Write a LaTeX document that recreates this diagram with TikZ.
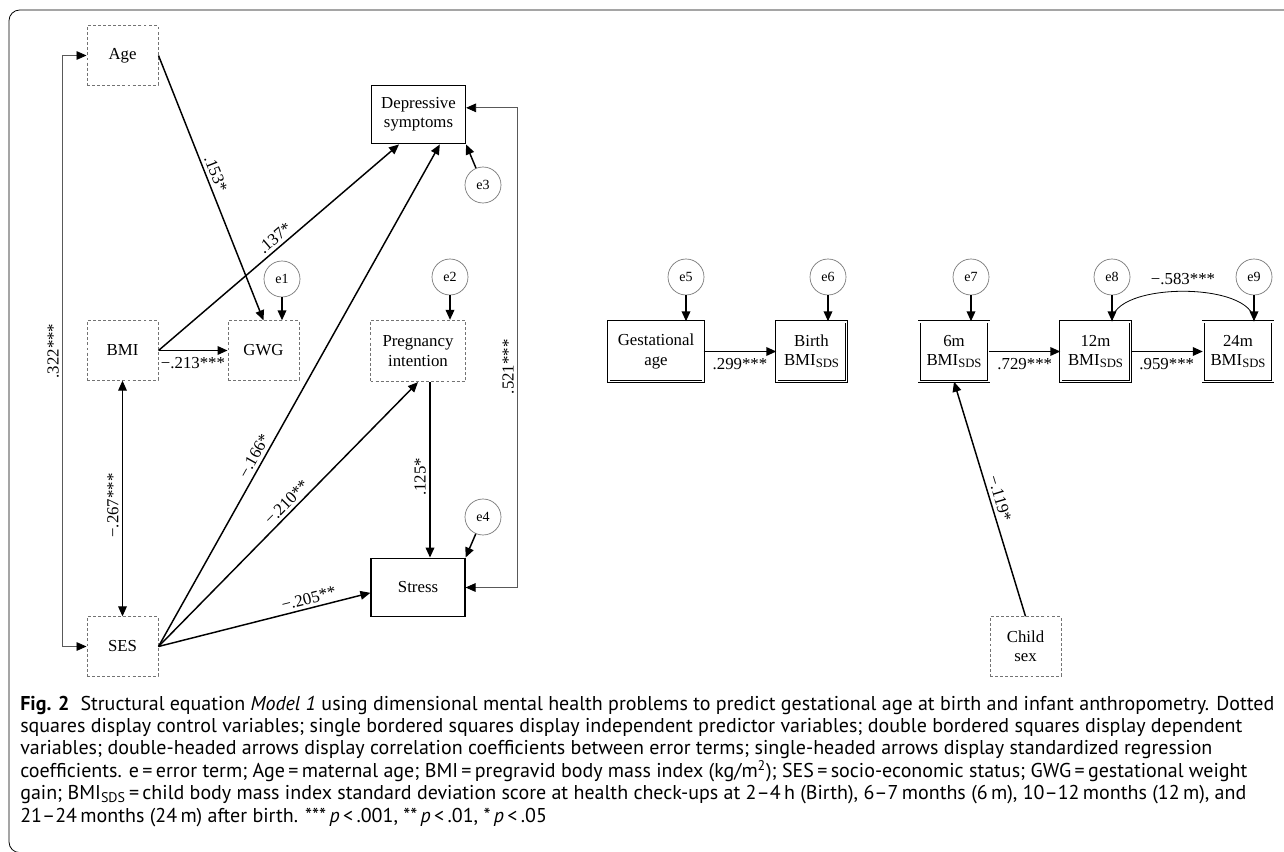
\documentclass[tikz,border=0pt]{standalone}
\usepackage{fontspec}
\setmainfont{Liberation Serif}
\newfontfamily\capfont{PT Sans}
\usetikzlibrary{arrows.meta}

\newcommand{\bmisds}{BMI\raisebox{-0.25ex}{\fontsize{9.5}{10}\selectfont SDS}}

\tikzset{
  ctrl/.style={draw=black!55, dash pattern=on 2.2pt off 1.6pt, line width=0.75pt, minimum width=53.25pt, minimum height=44.5pt, inner sep=1pt, align=center, font=\fontsize{12.6}{14.5}\selectfont},
  pred/.style={draw, line width=0.9pt, minimum width=70.5pt, minimum height=44pt, inner sep=1pt, align=center, font=\fontsize{12.6}{14.5}\selectfont},
  outc/.style={draw, double, double distance=1.3pt, line width=0.55pt, minimum width=52.3pt, minimum height=44.8pt, inner sep=1pt, align=center, font=\fontsize{12.6}{14.5}\selectfont},
  err/.style={circle, draw=black!55, line width=0.5pt, minimum size=27pt, inner sep=0pt, font=\fontsize{10.5}{12}\selectfont},
  reg/.style={line width=1.1pt, -{Triangle[length=7.5pt,width=6.5pt]}},
  corr/.style={line width=0.9pt, {Triangle[length=7.5pt,width=6.5pt]}-{Triangle[length=7.5pt,width=6.5pt]}},
  cov/.style={line width=0.6pt, draw=black!65, {Triangle[length=7.5pt,width=6.5pt,fill=black,color=black]}-{Triangle[length=7.5pt,width=6.5pt,fill=black,color=black]}},
  lab/.style={font=\fontsize{12.6}{14}\selectfont, inner sep=2.5pt},
  captext/.style={font=\capfont\fontsize{15}{16}\selectfont, inner sep=0pt, anchor=base west},
}

\begin{document}
\begin{tikzpicture}[x=0.75pt,y=-0.75pt]
\useasboundingbox (0,0) rectangle (1284,852);

%Frame
\draw[line width=0.6pt, rounded corners=8pt] (1284,10) -- (9,10) -- (9,852.6) -- (1284,852.6);

%Shape: Rectangle (mother)
\node[ctrl] (age) at (122.5,55.5) {Age};
\node[ctrl] (bmi) at (122.5,350.5) {BMI};
\node[ctrl] (gwg) at (263.5,350.5) {GWG};
\node[ctrl] (ses) at (122.5,646.5) {SES};
\node[pred] (dep) at (418.5,114.5) {Depressive\\symptoms};
\node[ctrl, minimum width=71.25pt, minimum height=46pt] (preg) at (418,351) {Pregnancy\\intention};
\node[pred] (stress) at (418,587.5) {Stress};

%Shape: Circle
\node[err] (e1) at (282,279) {e1};
\node[err] (e2) at (450,277) {e2};
\node[err] (e3) at (483,185) {e3};
\node[err] (e4) at (483,517) {e4};

%Shape: Rectangle (child)
\node[outc, minimum width=71pt] (gest) at (656,351.5) {Gestational\\age};
\node[outc] (birth) at (811.5,351.5) {Birth\\\bmisds};
\node[outc] (m6) at (954,351.5) {6m\\\bmisds};
\node[outc] (m12) at (1095.5,351.5) {12m\\\bmisds};
\node[outc] (m24) at (1238,351.5) {24m\\\bmisds};
\node[ctrl] (sex) at (1025.5,646.5) {Child\\sex};

%Shape: Circle
\node[err] (e5) at (686,277) {e5};
\node[err] (e6) at (828,277) {e6};
\node[err] (e7) at (971,277) {e7};
\node[err] (e8) at (1112,277) {e8};
\node[err] (e9) at (1254,277) {e9};

%Straight Lines
\draw[reg] (age.east) -- (gwg.north) node[lab, sloped, above, pos=0.46] {.153*};
\draw[reg] (bmi.east) -- ([xshift=-14.6pt]dep.south) node[lab, sloped, above, pos=0.51] {.137*};
\draw[reg] (bmi.east) -- (gwg.west) node[lab, below=2pt, midway] {−.213***};
\draw[corr] (ses.north) -- (bmi.south) node[lab, sloped, above, pos=0.47] {−.267***};
\draw[reg] (ses.east) -- ([xshift=16pt]dep.south) node[lab, sloped, above, pos=0.37] {−.166*};
\draw[reg] (ses.east) -- (preg.south) node[lab, sloped, above, pos=0.52] {−.210**};
\draw[reg] (ses.east) -- ([yshift=-4pt]stress.west) node[lab, sloped, above, pos=0.72] {−.205**};
\draw[reg] ([xshift=9pt]preg.south) -- ([xshift=9pt]stress.north) node[lab, rotate=90, anchor=south, pos=0.54] {.125*};
\draw[reg] (e1) -- (e1 |- gwg.north);
\draw[reg] (e2) -- (e2 |- preg.north);
\draw[reg] (e3) -- (dep.south east);
\draw[reg] (e4) -- (stress.north east);

%Covariances
\draw[cov] (ses.west) -- ++(-24,0) |- (age.west) node[lab, sloped, above, pos=0.25, black] {.322***};
\draw[cov] (stress.east) -- ++(52,0) |- ([yshift=5pt]dep.east) node[lab, sloped, above, pos=0.23, black] {.521***};

%Straight Lines
\draw[reg] (gest.east) -- (birth.west) node[lab, below=2pt, midway] {.299***};
\draw[reg] (e5) -- (e5 |- gest.north);
\draw[reg] (e6) -- (e6 |- birth.north);
\draw[reg] (m6.east) -- (m12.west) node[lab, below=2pt, midway] {.729***};
\draw[reg] (m12.east) -- (m24.west) node[lab, below=2pt, midway] {.959***};
\draw[reg] (e7) -- (e7 |- m6.north);
\draw[reg] (e8) -- (e8 |- m12.north);
\draw[reg] (e9) -- (e9 |- m24.north);
\draw[line width=0.6pt] (e8 |- m12.north) .. controls +(0,-40) and +(0,-40) .. (e9 |- m24.north) node[lab, midway, above=2pt] {−.583***};
\draw[reg] (sex.north) -- (m6.south) node[lab, sloped, above, pos=0.49] {−.119*};

% Text Node
\node[captext] (cap1) at (20,710) {\textbf{Fig. 2}\hspace{0.55em}Structural equation \textit{Model 1} using dimensional mental health problems to predict gestational age at birth and infant anthropometry. Dotted};
\node[captext] (cap2) at (20,732.4) {squares display control variables; single bordered squares display independent predictor variables; double bordered squares display dependent};
\node[captext] (cap3) at (20,754.8) {variables; double-headed arrows display correlation coefficients between error terms; single-headed arrows display standardized regression};
\node[captext] (cap4) at (20,777.2) {coefficients. e\,=\,error term; Age\,=\,maternal age; BMI\,=\,pregravid body mass index (kg/m\textsuperscript{2}); SES\,=\,socio-economic status; GWG\,=\,gestational weight};
\node[captext] (cap5) at (20,799.6) {gain; BMI\textsubscript{SDS}\,=\,child body mass index standard deviation score at health check-ups at 2–4\,h (Birth), 6–7\,months (6\,m), 10–12\,months (12\,m), and};
\node[captext] (cap6) at (20,822) {21–24\,months (24\,m) after birth. ***\,\textit{p}\,<\,.001, **\,\textit{p}\,<\,.01, *\,\textit{p}\,<\,.05};

\end{tikzpicture}
\end{document}
